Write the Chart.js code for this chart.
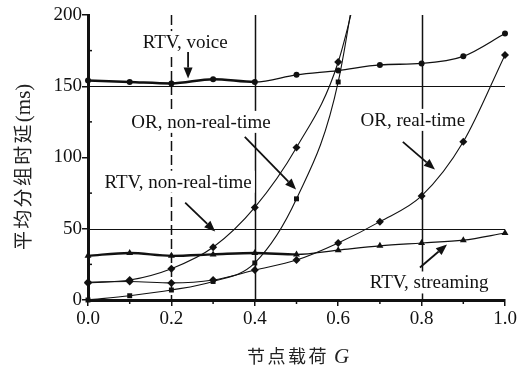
<!DOCTYPE html>
<html>
<head>
<meta charset="utf-8">
<script src="https://cdn.jsdelivr.net/npm/chart.js@4.4.0/dist/chart.umd.min.js"></script>
<style>
    html, body { margin: 0; padding: 0; background: #fff; }
</style>
</head>
<body>
<canvas id="delay-chart" width="522" height="371"></canvas>
<script>
// node load G
var loads = [0.0, 0.1, 0.2, 0.3, 0.4, 0.5, 0.6, 0.7, 0.8, 0.9, 1.0];
var rtvVoice = [154, 153, 152, 155, 153, 158, 161, 165, 166, 171, 187];
var rtvStreaming = [31, 33, 31, 32, 33, 32, 35, 38, 40, 42, 47];
var orRealTime = [12.5, 13, 12, 14, 21, 28, 40, 55, 73, 111, 172];

// these two leave the plot above 200 just after 0.6, last point has no marker
var steepLoads = [0.0, 0.1, 0.2, 0.3, 0.4, 0.5, 0.6, 0.7];
var rtvNonRealTime = [12, 14, 22, 37, 65, 107, 167, 290];
var orNonRealTime = [0, 3, 7, 13, 26, 71, 153, 340];

var xTicks = ['0.0', '0.2', '0.4', '0.6', '0.8', '1.0'];
var yTicks = [0, 50, 100, 150, 200];

var labels = [
    { text: 'RTV, voice', at: [0.233, 181], from: [0.24, 174], to: [0.24, 155.5] },
    { text: 'OR, non-real-time', at: [0.271, 125], from: [0.376, 114.5], to: [0.499, 77.5] },
    { text: 'OR, real-time', at: [0.779, 126.4], from: [0.755, 111], to: [0.832, 91.5] },
    { text: 'RTV, non-real-time', at: [0.216, 83], from: [0.233, 68.3], to: [0.305, 48] },
    { text: 'RTV, streaming', at: [0.818, 12.3], from: [0.796, 22.8], to: [0.861, 39] }
];

var INK = '#111';
var SERIF = '"Liberation Serif", "DejaVu Serif", serif';
var CJK = '"Noto Sans CJK SC", sans-serif';

function pts(xs, ys) {
    return ys.map(function (v, i) { return { x: xs[i], y: v }; });
}

// opts: thickUntil = x where the line gets thinner, lastBare = no marker on last point
function series(data, style, radius, width, opts) {
    opts = opts || {};
    return {
        data: data,
        showLine: true,
        borderColor: INK,
        backgroundColor: INK,
        borderWidth: width,
        segment: {
            borderWidth: function (ctx) {
                return opts.thickUntil && ctx.p1.parsed.x <= opts.thickUntil + 1e-6 ? width + 1.2 : width;
            }
        },
        pointStyle: style,
        pointRadius: function (ctx) {
            return opts.lastBare && ctx.dataIndex === data.length - 1 ? 0 : radius;
        },
        pointBorderWidth: 0,
        cubicInterpolationMode: 'monotone',
        clip: { left: 8, right: 8, top: 0, bottom: 8 }
    };
}

var refLines = {
    id: 'refLines',
    beforeDatasetsDraw: function (chart) {
        var ctx = chart.ctx, a = chart.chartArea, sx = chart.scales.x, sy = chart.scales.y;
        ctx.save();
        ctx.strokeStyle = INK;
        [{ v: 0.2, dash: [10, 4], w: 1.5 }, { v: 0.4, w: 1.5 }, { v: 0.8, w: 1.5 }].forEach(function (l) {
            var px = Math.round(sx.getPixelForValue(l.v)) + 0.5;
            ctx.lineWidth = l.w;
            ctx.setLineDash(l.dash || []);
            ctx.beginPath(); ctx.moveTo(px, a.top); ctx.lineTo(px, a.bottom); ctx.stroke();
        });
        ctx.setLineDash([]);
        ctx.lineWidth = 1.2;
        [50, 150].forEach(function (v) {
            var py = Math.round(sy.getPixelForValue(v)) + 0.5;
            ctx.beginPath(); ctx.moveTo(a.left, py); ctx.lineTo(a.right, py); ctx.stroke();
        });
        // minor ticks
        ctx.lineWidth = 1.5;
        [25, 75, 125, 175].forEach(function (v) {
            var py = sy.getPixelForValue(v);
            ctx.beginPath(); ctx.moveTo(a.left, py); ctx.lineTo(a.left + 4, py); ctx.stroke();
        });
        [0.1, 0.3, 0.5, 0.7, 0.9].forEach(function (v) {
            var px = sx.getPixelForValue(v);
            ctx.beginPath(); ctx.moveTo(px, a.bottom); ctx.lineTo(px, a.bottom + 4); ctx.stroke();
        });
        ctx.restore();
    },
    afterDatasetsDraw: function (chart) {
        var ctx = chart.ctx, sx = chart.scales.x, sy = chart.scales.y;
        ctx.save();
        ctx.font = '19px ' + SERIF;
        ctx.textAlign = 'center';
        ctx.textBaseline = 'middle';
        labels.forEach(function (l) {
            var cx = sx.getPixelForValue(l.at[0]), cy = sy.getPixelForValue(l.at[1]);
            var w = ctx.measureText(l.text).width;
            ctx.fillStyle = '#fff';
            ctx.fillRect(cx - w / 2 - 3, cy - 11, w + 6, 22);
            ctx.fillStyle = INK;
            ctx.fillText(l.text, cx, cy + 1);

            var x0 = sx.getPixelForValue(l.from[0]), y0 = sy.getPixelForValue(l.from[1]);
            var x1 = sx.getPixelForValue(l.to[0]), y1 = sy.getPixelForValue(l.to[1]);
            var ang = Math.atan2(y1 - y0, x1 - x0), len = 11, half = 4.5;
            var bx = x1 - len * Math.cos(ang), by = y1 - len * Math.sin(ang);
            ctx.strokeStyle = INK;
            ctx.lineWidth = 1.8;
            ctx.beginPath(); ctx.moveTo(x0, y0); ctx.lineTo(bx, by); ctx.stroke();
            ctx.beginPath();
            ctx.moveTo(x1, y1);
            ctx.lineTo(bx + half * Math.sin(ang), by - half * Math.cos(ang));
            ctx.lineTo(bx - half * Math.sin(ang), by + half * Math.cos(ang));
            ctx.closePath();
            ctx.fill();
        });
        ctx.restore();
    },
    afterDraw: function (chart) {
        var ctx = chart.ctx;
        ctx.save();
        ctx.fillStyle = '#222';
        ctx.textBaseline = 'middle';
        ctx.textAlign = 'left';

        // x title: 节点载荷 G
        var x = 247;
        ctx.font = '18px ' + CJK;
        '节点载荷'.split('').forEach(function (ch) {
            ctx.fillText(ch, x, 356);
            x += 20.5;
        });
        ctx.font = 'italic 21px ' + SERIF;
        ctx.fillText('G', x + 5, 357);

        // y title, rotated
        ctx.translate(23, 250);
        ctx.rotate(-Math.PI / 2);
        var y = 0;
        ctx.font = '19px ' + CJK;
        '平均分组时延'.split('').forEach(function (ch) {
            ctx.fillText(ch, y, 0);
            y += 21.3;
        });
        ctx.font = '21px ' + SERIF;
        ctx.fillText('(ms)', y, 1);
        ctx.restore();
    }
};

var tickFont = { family: SERIF, size: 19 };

new Chart(document.getElementById('delay-chart'), {
    type: 'scatter',
    data: {
        datasets: [
            series(pts(loads, rtvVoice), 'circle', 3, 1.3, { thickUntil: 0.4 }),
            series(pts(loads, rtvStreaming), 'triangle', 4, 1.2, { thickUntil: 0.5 }),
            series(pts(loads, orRealTime), 'rectRot', 4, 1.1),
            series(pts(steepLoads, rtvNonRealTime), 'rectRot', 4, 1.1, { lastBare: true }),
            series(pts(steepLoads, orNonRealTime), 'rect', 3.5, 1.1, { lastBare: true })
        ]
    },
    options: {
        responsive: false,
        animation: false,
        devicePixelRatio: 1,
        layout: { padding: { top: 15, right: 17, left: 0, bottom: 0 } },
        plugins: { legend: { display: false }, tooltip: { enabled: false } },
        scales: {
            x: {
                type: 'linear',
                min: 0, max: 1,
                afterFit: function (s) { s.height = 71; },
                afterBuildTicks: function (s) {
                    s.ticks = xTicks.map(function (t) { return { value: parseFloat(t) }; });
                },
                ticks: {
                    font: tickFont, color: INK, padding: 2, maxRotation: 0,
                    callback: function (v) { return v.toFixed(1); }
                },
                grid: { drawOnChartArea: false, tickLength: 6, color: INK, lineWidth: 1.5 },
                border: { color: INK, width: 3 }
            },
            y: {
                min: 0, max: 200,
                afterFit: function (s) { s.width = 88; },
                afterBuildTicks: function (s) {
                    s.ticks = yTicks.map(function (t) { return { value: t }; });
                },
                ticks: { font: tickFont, color: INK, padding: 0 },
                grid: { drawOnChartArea: false, tickLength: 6, color: INK, lineWidth: 1.5 },
                border: { color: INK, width: 3 }
            }
        }
    },
    plugins: [refLines]
});
</script>
</body>
</html>
